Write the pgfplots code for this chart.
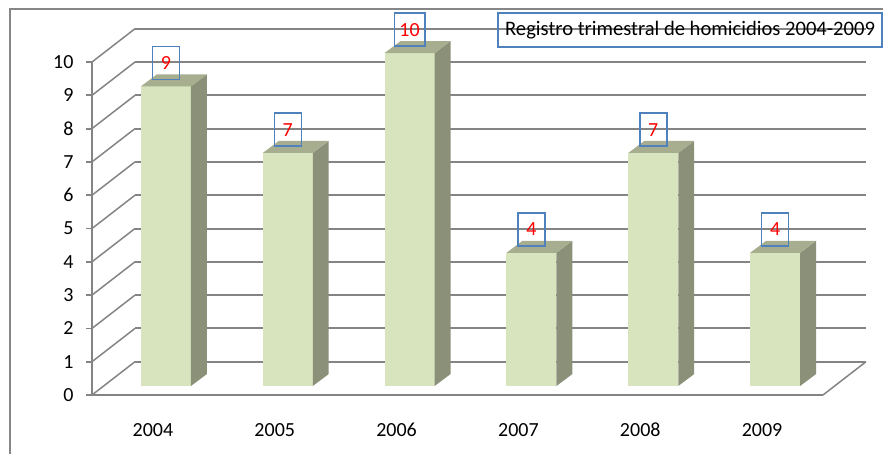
\documentclass[border=0pt]{standalone}
\usepackage{pgfplots}
\pgfplotsset{compat=1.18}
\usepackage{fontspec}
\setmainfont{Carlito}
\definecolor{gridgray}{HTML}{848484}
\definecolor{framegray}{HTML}{868686}
\definecolor{barfront}{HTML}{D7E4BD}
\definecolor{barside}{HTML}{8A9178}
\definecolor{bartop}{HTML}{A6AE8F}
\definecolor{labelblue}{HTML}{4F81BD}
\definecolor{labelred}{HTML}{FF0000}
\begin{document}
\begin{tikzpicture}
\useasboundingbox (-92pt,-58pt) rectangle (791pt,395pt);
\clip (-92pt,-58pt) rectangle (791pt,395pt);
\draw[framegray, line width=2pt] (-82pt,386pt) rectangle (900pt,-90pt);
\begin{axis}[
  scale only axis, width=731pt, height=333pt,
  at={(0pt,0pt)}, anchor=south west,
  xmin=0, xmax=6, ymin=0, ymax=10, clip=false,
  axis x line=bottom, axis y line=left,
  axis line style={gridgray, line width=1.8pt, -},
  tick align=outside,
  xtick={0.5,1.5,2.5,3.5,4.5,5.5},
  xticklabels={2004,2005,2006,2007,2008,2009},
  xtick style={draw=none},
  minor xtick={0,1,2,3,4,5,6},
  minor tick length=7pt,
  minor x tick style={gridgray, line width=1.8pt},
  ytick={0,1,...,10},
  ytick style={gridgray, line width=1.8pt},
  major tick length=6pt,
  tick label style={font=\fontsize{20}{22}\selectfont, black},
  xticklabel style={anchor=north, text height=14pt, text depth=2pt, yshift=-18pt},
  yticklabel style={xshift=-9pt},
  /pgf/number format/assume math mode=true,
]
% back wall gridlines
\addplot[gridgray, line width=2pt, mark=none] coordinates {(0.353,1) (6.353,1)};
\addplot[gridgray, line width=2pt, mark=none] coordinates {(0.353,2) (6.353,2)};
\addplot[gridgray, line width=2pt, mark=none] coordinates {(0.353,3) (6.353,3)};
\addplot[gridgray, line width=2pt, mark=none] coordinates {(0.353,4) (6.353,4)};
\addplot[gridgray, line width=2pt, mark=none] coordinates {(0.353,5) (6.353,5)};
\addplot[gridgray, line width=2pt, mark=none] coordinates {(0.353,6) (6.353,6)};
\addplot[gridgray, line width=2pt, mark=none] coordinates {(0.353,7) (6.353,7)};
\addplot[gridgray, line width=2pt, mark=none] coordinates {(0.353,8) (6.353,8)};
\addplot[gridgray, line width=2pt, mark=none] coordinates {(0.353,9) (6.353,9)};
\addplot[gridgray, line width=2pt, mark=none] coordinates {(0.353,10) (6.353,10)};
\addplot[gridgray, line width=2pt, mark=none] coordinates {(0.353,11) (6.353,11)};
% side wall diagonals
\addplot[gridgray, line width=1.5pt, mark=none] coordinates {(0,0) (0.353,1)};
\addplot[gridgray, line width=1.5pt, mark=none] coordinates {(0,1) (0.353,2)};
\addplot[gridgray, line width=1.5pt, mark=none] coordinates {(0,2) (0.353,3)};
\addplot[gridgray, line width=1.5pt, mark=none] coordinates {(0,3) (0.353,4)};
\addplot[gridgray, line width=1.5pt, mark=none] coordinates {(0,4) (0.353,5)};
\addplot[gridgray, line width=1.5pt, mark=none] coordinates {(0,5) (0.353,6)};
\addplot[gridgray, line width=1.5pt, mark=none] coordinates {(0,6) (0.353,7)};
\addplot[gridgray, line width=1.5pt, mark=none] coordinates {(0,7) (0.353,8)};
\addplot[gridgray, line width=1.5pt, mark=none] coordinates {(0,8) (0.353,9)};
\addplot[gridgray, line width=1.5pt, mark=none] coordinates {(0,9) (0.353,10)};
\addplot[gridgray, line width=1.5pt, mark=none] coordinates {(0,10) (0.353,11)};
\addplot[gridgray, line width=1.5pt, mark=none] coordinates {(6,0) (6.353,1)};
% bars: 2004=9
\addplot[fill=barfront, draw=none] coordinates {(0.402,0.27) (0.812,0.27) (0.812,9.27) (0.402,9.27)} --cycle;
\addplot[fill=barside, draw=none] coordinates {(0.812,0.27) (0.943,0.63) (0.943,9.63) (0.812,9.27)} --cycle;
\addplot[fill=bartop, draw=none] coordinates {(0.402,9.27) (0.812,9.27) (0.943,9.63) (0.533,9.63)} --cycle;
% 2005=7
\addplot[fill=barfront, draw=none] coordinates {(1.402,0.27) (1.812,0.27) (1.812,7.27) (1.402,7.27)} --cycle;
\addplot[fill=barside, draw=none] coordinates {(1.812,0.27) (1.943,0.63) (1.943,7.63) (1.812,7.27)} --cycle;
\addplot[fill=bartop, draw=none] coordinates {(1.402,7.27) (1.812,7.27) (1.943,7.63) (1.533,7.63)} --cycle;
% 2006=10
\addplot[fill=barfront, draw=none] coordinates {(2.402,0.27) (2.812,0.27) (2.812,10.27) (2.402,10.27)} --cycle;
\addplot[fill=barside, draw=none] coordinates {(2.812,0.27) (2.943,0.63) (2.943,10.63) (2.812,10.27)} --cycle;
\addplot[fill=bartop, draw=none] coordinates {(2.402,10.27) (2.812,10.27) (2.943,10.63) (2.533,10.63)} --cycle;
% 2007=4
\addplot[fill=barfront, draw=none] coordinates {(3.402,0.27) (3.812,0.27) (3.812,4.27) (3.402,4.27)} --cycle;
\addplot[fill=barside, draw=none] coordinates {(3.812,0.27) (3.943,0.63) (3.943,4.63) (3.812,4.27)} --cycle;
\addplot[fill=bartop, draw=none] coordinates {(3.402,4.27) (3.812,4.27) (3.943,4.63) (3.533,4.63)} --cycle;
% 2008=7
\addplot[fill=barfront, draw=none] coordinates {(4.402,0.27) (4.812,0.27) (4.812,7.27) (4.402,7.27)} --cycle;
\addplot[fill=barside, draw=none] coordinates {(4.812,0.27) (4.943,0.63) (4.943,7.63) (4.812,7.27)} --cycle;
\addplot[fill=bartop, draw=none] coordinates {(4.402,7.27) (4.812,7.27) (4.943,7.63) (4.533,7.63)} --cycle;
% 2009=4
\addplot[fill=barfront, draw=none] coordinates {(5.402,0.27) (5.812,0.27) (5.812,4.27) (5.402,4.27)} --cycle;
\addplot[fill=barside, draw=none] coordinates {(5.812,0.27) (5.943,0.63) (5.943,4.63) (5.812,4.27)} --cycle;
\addplot[fill=bartop, draw=none] coordinates {(5.402,4.27) (5.812,4.27) (5.943,4.63) (5.533,4.63)} --cycle;
% data labels
\addplot[draw=none, mark=none, nodes near coords, point meta=explicit symbolic,
  every node near coord/.style={anchor=center, draw=labelblue, line width=1.5pt,
    text=labelred, font=\fontsize{20}{22}\selectfont, minimum height=33pt, minimum width=27pt, inner xsep=5pt}]
  coordinates {(0.607,9.97)[9] (1.607,7.97)[7] (2.607,10.97)[10] (3.607,4.97)[4] (4.607,7.97)[7] (5.607,4.97)[4]};
% title box
\node[draw=labelblue, line width=1.5pt, minimum width=384pt, minimum height=34pt, inner sep=0pt,
  font=\fontsize{20.6}{22}\selectfont] at (axis cs:4.909,10.96) {Registro trimestral de homicidios 2004-2009};
\end{axis}
\end{tikzpicture}
\end{document}
